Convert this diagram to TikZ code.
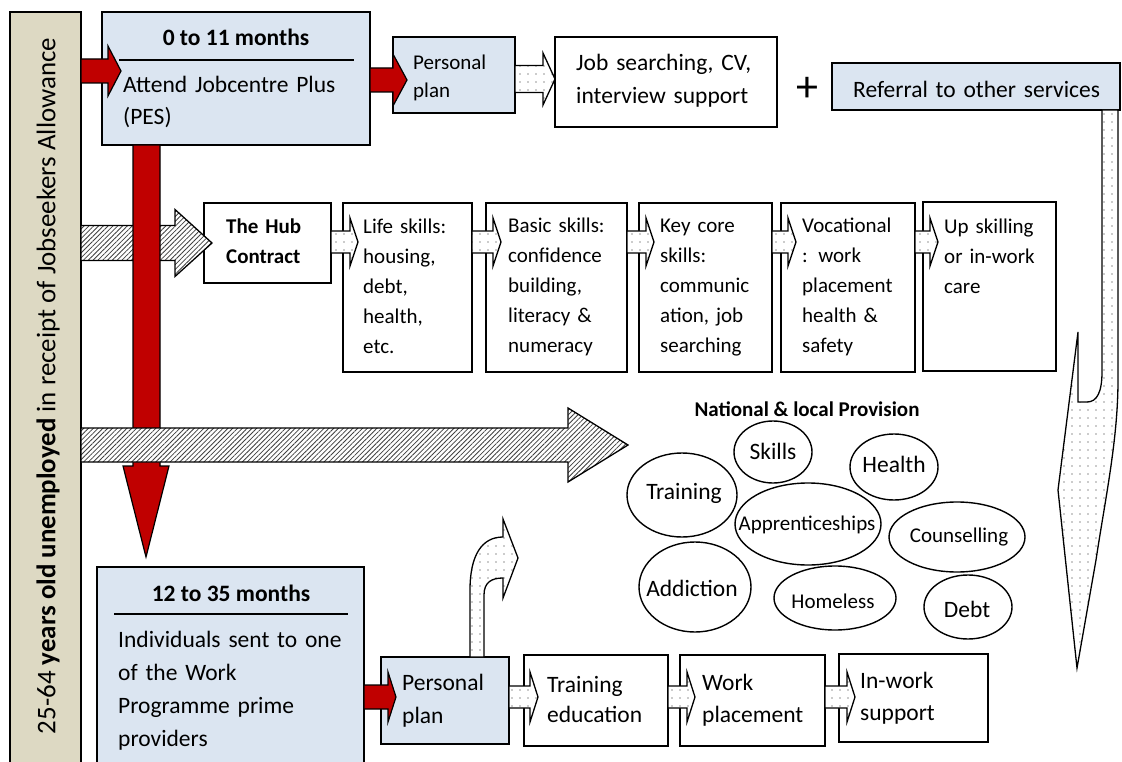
\documentclass[tikz,border=0pt]{standalone}
\usepackage{fontspec}
\setmainfont{Carlito}
\usetikzlibrary{patterns.meta,calc}

\definecolor{jobred}{HTML}{C00000}
\definecolor{paleblue}{HTML}{DBE5F1}
\definecolor{paletan}{HTML}{DDD9C3}

\tikzset{
  frame/.style={draw=black, line width=1.6pt, anchor=north west, inner sep=0pt, outer sep=0pt},
  bluebox/.style={frame, fill=paleblue},
  whitebox/.style={frame, fill=white},
  tx/.style args={#1/#2}{anchor=base west, inner sep=0pt, align=left, text width=280pt, font=\fontsize{#1}{#2}\selectfont},
  boxtitle/.style={anchor=base, inner sep=0pt, font=\bfseries\fontsize{23.5}{28}\selectfont},
  rule/.style={line width=1.5pt},
  redarrow/.style={draw=black, line width=1.2pt, fill=jobred},
  hatcharrow/.style={draw=black, line width=1.3pt, preaction={fill=white}, pattern={Lines[angle=45,distance=3.4pt,line width=0.8pt]}, pattern color=black!75},
  dotarrow/.style={draw=black, line width=1.3pt, preaction={fill=white}, pattern={Dots[distance=8pt,radius=0.65pt]}, pattern color=black!85},
  oval/.style={draw=black, line width=1.4pt},
  ovaltext/.style={inner sep=0pt, font=\fontsize{#1}{#1}\selectfont},
}

% horizontal block arrow: style, start, tip, shaft half height, head half height, head length
\newcommand{\flowarrow}[6]{%
  \path[#1] let \p1=#2, \p2=#3 in
    (\x1,\y2+#4pt) -- (\x2-#6pt,\y2+#4pt) -- (\x2-#6pt,\y2+#5pt) -- (\p2)
    -- (\x2-#6pt,\y2-#5pt) -- (\x2-#6pt,\y2-#4pt) -- (\x1,\y2-#4pt) -- cycle;}

\begin{document}
\begin{tikzpicture}[x=1pt,y=-1pt]
\useasboundingbox (0,0) rectangle (1122,762);

% client group bar
\node[frame, fill=paletan, minimum width=71pt, minimum height=770pt] (bar) at (10,12) {};
\node[rotate=90, inner sep=0pt, font=\fontsize{26.9}{30}\selectfont] (bartext) at (48,386)
  {25-64 \textbf{years old unemployed} in receipt of Jobseekers Allowance};

% first year
\node[bluebox, minimum width=268pt, minimum height=133pt] (topbox) at (102,12) {};
\node[bluebox, minimum width=122pt, minimum height=76pt] (plan1) at (393,37) {};
\node[whitebox, minimum width=222pt, minimum height=90pt] (job) at (555,37) {};
\node[bluebox, minimum width=288pt, minimum height=47pt] (referral) at (832,63) {};

% hub contract row
\node[whitebox, minimum width=127pt, minimum height=80pt] (hub) at (204,203) {};
\node[whitebox, minimum width=129pt, minimum height=169pt] (life) at (343,203) {};
\node[whitebox, minimum width=141pt, minimum height=169pt] (basic) at (486,203) {};
\node[whitebox, minimum width=133pt, minimum height=169pt] (keycore) at (639,203) {};
\node[whitebox, minimum width=134pt, minimum height=169pt] (vocational) at (781,203) {};
\node[whitebox, minimum width=133pt, minimum height=169pt] (upskill) at (923,202) {};

% work programme
\node[bluebox, minimum width=267pt, minimum height=210pt] (bottombox) at (97,567) {};
\node[bluebox, minimum width=128pt, minimum height=87pt] (plan2) at (381,657) {};
\node[whitebox, minimum width=144pt, minimum height=91pt] (training) at (524,655) {};
\node[whitebox, minimum width=145pt, minimum height=91pt] (work) at (680,655) {};
\node[whitebox, minimum width=149pt, minimum height=88pt] (inwork) at (839,654) {};

% arrows leaving the client bar
\flowarrow{hatcharrow}{(bar.east)}{($(hub.north west)+(8,40)$)}{17.5}{33.5}{37}
\path[redarrow] (133,145) -- (133,466) -- (123,466) -- (146,557) -- (169,466) -- (160,466) -- (160,145) -- cycle;
\coordinate (provtip) at (628,445);
\flowarrow{hatcharrow}{(bar.east)}{(provtip)}{17}{37}{60}
\flowarrow{redarrow}{(bar.east)}{($(topbox.north west)+(19,59)$)}{12}{25}{13}

% first year arrows
\flowarrow{redarrow}{(topbox.east)}{($(plan1.north west)+(14,43)$)}{12}{26}{14}
\flowarrow{dotarrow}{(plan1.east)}{($(job.north west)+(0,42)$)}{13.5}{26}{12}

% hub row arrows
\flowarrow{dotarrow}{(hub.east)}{($(life.north west)+(15,39)$)}{11}{24}{8}
\flowarrow{dotarrow}{(life.east)}{($(basic.north west)+(15,39)$)}{11}{24}{8}
\flowarrow{dotarrow}{(basic.east)}{($(keycore.north west)+(15,39)$)}{11}{24}{8}
\flowarrow{dotarrow}{(keycore.east)}{($(vocational.north west)+(15,39)$)}{11}{24}{8}
\flowarrow{dotarrow}{(vocational.east)}{($(upskill.north west)+(15,40)$)}{11}{24}{8}

% work programme arrows
\flowarrow{redarrow}{(bottombox.east)}{($(plan2.north west)+(15,40)$)}{12}{25}{8}
\flowarrow{dotarrow}{(plan2.east)}{($(training.north west)+(14,42)$)}{11}{25}{8}
\flowarrow{dotarrow}{(training.east)}{($(work.north west)+(15,42)$)}{11}{25}{8}
\flowarrow{dotarrow}{(work.east)}{($(inwork.north west)+(16,43)$)}{11}{25}{8}

% curved arrow rising from the second personal plan
\path[dotarrow] (470,657) -- (470,590) .. controls (470,555) and (482,537) .. (503,537)
  -- (503,519) -- (518,558) -- (503,598) -- (503,578)
  .. controls (492,578) and (484,582) .. (484,595) -- (484,657) -- cycle;

% curved arrow descending from the referral box
\path[dotarrow] (1102,110) -- (1102,372) .. controls (1102,392) and (1097,402) .. (1087,402)
  -- (1078,402) -- (1078,332) -- (1058,490) -- (1077,668)
  -- (1096,560) .. controls (1105,500) and (1118,440) .. (1118,380) -- (1118,110) -- cycle;

% texts
\node[boxtitle] (toptitle) at (236,46) {0 to 11 months};
\draw[rule] (119,60) -- (354,60);
\node[tx=23.5/32] (toptext) at (123,93) {Attend Jobcentre Plus\\(PES)};
\node[tx=21/28] (plan1text) at (413,70) {Personal\\plan};
\node[tx=23.5/33] (jobtext) at (576,71) {Job searching, CV,\\interview support};
\node[inner sep=0pt, font=\fontsize{44}{44}\selectfont] (plus) at (807,89) {+};
\node[tx=23.5/28] (referraltext) at (853,98) {Referral to other services};

\node[tx=21/30, font=\bfseries\fontsize{21}{30}\selectfont] (hubtext) at (226,234) {The Hub\\Contract};
\node[tx=21/29.8] (lifetext) at (363,234) {Life skills:\\housing,\\debt,\\health,\\etc.};
\node[tx=21/29.8] (basictext) at (508,233) {Basic skills:\\confidence\\building,\\literacy \&\\numeracy};
\node[tx=21/29.8] (keytext) at (660,233) {Key core\\skills:\\communic\\ation, job\\searching};
\node[tx=21/29.8] (voctext) at (802,233) {Vocational\\: work\\placement\\health \&\\safety};
\node[tx=21/29.8] (uptext) at (944,234) {Up skilling\\or in-work\\care};

\node[boxtitle] (bottomtitle) at (231,601) {12 to 35 months};
\draw[rule] (114,614) -- (348,614);
\node[tx=23.5/33.3] (bottomtext) at (118,647) {Individuals sent to one\\of the Work\\Programme prime\\providers};
\node[tx=23.5/33] (plan2text) at (402,690) {Personal\\plan};
\node[tx=23.5/30.5] (trainingtext) at (547,692) {Training\\education};
\node[tx=23.5/32] (worktext) at (702,690) {Work\\placement};
\node[tx=23.5/32] (inworktext) at (860,688) {In-work\\support};

% national and local provision
\node[anchor=base, inner sep=0pt, font=\bfseries\fontsize{21}{21}\selectfont] (provtitle) at (807,416) {National \& local Provision};
\draw[oval] (773,452) ellipse [x radius=39pt, y radius=31pt];
\draw[oval] (894,467) ellipse [x radius=44pt, y radius=33pt];
\draw[oval] (682,495) ellipse [x radius=55pt, y radius=42pt];
\draw[oval] (808,524) ellipse [x radius=73pt, y radius=41pt];
\draw[oval] (957,537) ellipse [x radius=68pt, y radius=35pt];
\draw[oval] (695,587) ellipse [x radius=56pt, y radius=45pt];
\draw[oval] (835,598) ellipse [x radius=61pt, y radius=32pt];
\draw[oval] (968,607) ellipse [x radius=44pt, y radius=32pt];
\node[ovaltext=23.5] (skills) at (773,451) {Skills};
\node[ovaltext=23.5] (health) at (894,464) {Health};
\node[ovaltext=23.5] (trainingoval) at (684,493) {Training};
\node[ovaltext=21] (apprentice) at (807,525) {Apprenticeships};
\node[ovaltext=21] (counselling) at (959,537) {Counselling};
\node[ovaltext=23.5] (addiction) at (692,588) {Addiction};
\node[ovaltext=21] (homeless) at (833,601) {Homeless};
\node[ovaltext=23.5] (debt) at (967,609) {Debt};
\end{tikzpicture}
\end{document}
